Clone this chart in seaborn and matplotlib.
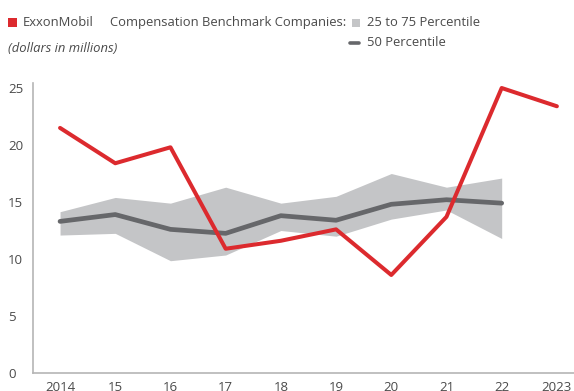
import matplotlib
matplotlib.use("Agg")
import matplotlib.pyplot as plt
import seaborn as sns
import pandas as pd
from matplotlib.patches import Rectangle
from matplotlib.lines import Line2D

years = [2014, 2015, 2016, 2017, 2018, 2019, 2020, 2021, 2022, 2023]
tick_labels = ["2014", "15", "16", "17", "18", "19", "20", "21", "22", "2023"]
exxon = [21.5, 18.4, 19.8, 10.9, 11.6, 12.6, 8.6, 13.7, 25.0, 23.4]
peer_years = [2014, 2015, 2016, 2017, 2018, 2019, 2020, 2021, 2022]
p50 = [13.3, 13.9, 12.6, 12.25, 13.8, 13.4, 14.8, 15.2, 14.9]
p75 = [14.15, 15.4, 14.9, 16.3, 14.9, 15.5, 17.5, 16.3, 17.1]
p25 = [12.1, 12.25, 9.85, 10.35, 12.5, 12.0, 13.5, 14.3, 11.8]

RED = "#dc2a2e"
DARK = "#66676a"
BAND = "#c4c5c7"
TEXT = "#4a4a4a"

sns.set_theme(style="white")
plt.rcParams["font.family"] = ["Open Sans", "DejaVu Sans"]

W, H = 574, 391
fig = plt.figure(figsize=(W / 100, H / 100), dpi=100)
ax = fig.add_axes([33 / W, (H - 373) / H, (W - 33) / W, (373 - 83) / H])

peers = pd.DataFrame({"year": peer_years, "p25": p25, "p50": p50, "p75": p75})
xom = pd.DataFrame({"year": years, "value": exxon})

ax.fill_between(peers["year"], peers["p25"], peers["p75"], color=BAND, lw=0, zorder=1)
sns.lineplot(data=peers, x="year", y="p50", ax=ax, color=DARK, lw=3.4, zorder=2)
sns.lineplot(data=xom, x="year", y="value", ax=ax, color=RED, lw=2.9, zorder=3)

ax.set_xlim(2013.51, 2023.31)
ax.set_ylim(0, 25.44)
ax.set_xticks(years)
ax.set_xticklabels(tick_labels)
ax.set_yticks([0, 5, 10, 15, 20, 25])
ax.set_xlabel("")
ax.set_ylabel("")
ax.tick_params(axis="both", length=0, labelsize=9.5, colors=TEXT)
ax.tick_params(axis="x", pad=6)
for side in ["top", "right"]:
    ax.spines[side].set_visible(False)
for side in ["left", "bottom"]:
    ax.spines[side].set_color("#b5b5b5")
    ax.spines[side].set_linewidth(1.2)
for lbl in ax.get_yticklabels():
    lbl.set_horizontalalignment("left")
    lbl.set_transform(ax.get_yaxis_transform())
    lbl.set_position((-25 / (W - 33), lbl.get_position()[1]))


def px(x, y):
    return x / W, 1 - y / H


# Legend header
fig.patches.append(Rectangle(px(8, 27), 9 / W, 9 / H, transform=fig.transFigure,
                             color=RED, lw=0))
fig.text(*px(23, 22.5), "ExxonMobil", fontsize=9.4, color=TEXT, va="center")
fig.text(*px(110, 22.5), "Compensation Benchmark Companies:", fontsize=9.4, color=TEXT,
         va="center")
fig.patches.append(Rectangle(px(352, 27), 8 / W, 8 / H, transform=fig.transFigure,
                             color=BAND, lw=0))
fig.text(*px(367, 22.5), "25 to 75 Percentile", fontsize=9.4, color=TEXT, va="center")
fig.lines.append(Line2D([350 / W, 359 / W], [1 - 43 / H, 1 - 43 / H],
                        transform=fig.transFigure, color=DARK, lw=2.6))
fig.text(*px(367, 43), "50 Percentile", fontsize=9.4, color=TEXT, va="center")
fig.text(*px(8, 49), "(dollars in millions)", fontsize=9.4, color=TEXT, va="center",
         style="italic")

fig.savefig("out.png", dpi=100)
